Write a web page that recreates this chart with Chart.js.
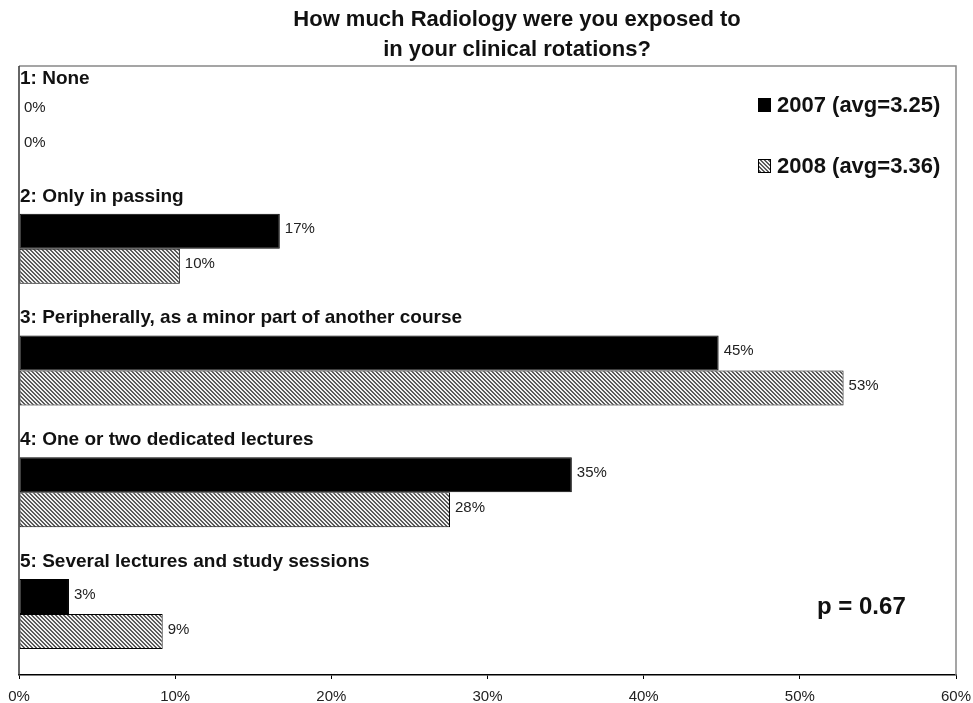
<!DOCTYPE html>
<html>
<head>
<meta charset="utf-8">
<script src="https://cdn.jsdelivr.net/npm/chart.js@4.4.1/dist/chart.umd.min.js"></script>
<style>
  html, body { margin: 0; padding: 0; background: #fff; }
  #wrap { width: 973px; height: 703px; }
</style>
</head>
<body>
<div id="wrap"><canvas id="chart" width="973" height="703"></canvas></div>
<script>
// ---- data ----
const categories = [
  '1: None',
  '2: Only in passing',
  '3: Peripherally, as a minor part of another course',
  '4: One or two dedicated lectures',
  '5: Several lectures and study sessions'
];
const values2007 = [0, 16.7, 44.8, 35.4, 3.2];
const values2008 = [0, 10.3, 52.8, 27.6, 9.2];
const seriesNames = ['2007 (avg=3.25)', '2008 (avg=3.36)'];
const xTicks = [0, 10, 20, 30, 40, 50, 60];
const titleLines = ['How much Radiology were you exposed to', 'in your clinical rotations?'];
const pValueText = 'p = 0.67';

const FONT = 'Arial, "Liberation Sans", sans-serif';

// hatch pattern for 2008
function makeHatch() {
  const c = document.createElement('canvas');
  c.width = 4; c.height = 4;
  const g = c.getContext('2d');
  g.fillStyle = '#f0f0f0';
  g.fillRect(0, 0, 4, 4);
  g.fillStyle = '#5a5a5a';
  for (let y = 0; y < 4; y++) {
    for (let x = 0; x < 4; x++) {
      const d = ((x - y) % 4 + 4) % 4;
      if (d === 0 || d === 1) g.fillRect(x, y, 1, 1);
    }
  }
  return c;
}
const ctx = document.getElementById('chart').getContext('2d');
const hatch = ctx.createPattern(makeHatch(), 'repeat');

// titles, labels, legend, frame
const decorations = {
  id: 'decorations',
  afterDatasetsDraw(chart) {
    const c = chart.ctx;
    const area = chart.chartArea;
    c.save();

    // frame
    c.strokeStyle = '#888';
    c.lineWidth = 1.5;
    c.beginPath();
    c.moveTo(area.left, area.top);
    c.lineTo(area.right, area.top);
    c.lineTo(area.right, area.bottom);
    c.stroke();
    c.strokeStyle = '#333';
    c.beginPath();
    c.moveTo(area.left, area.top);
    c.lineTo(area.left, area.bottom);
    c.stroke();

    // title
    c.fillStyle = '#111';
    c.font = 'bold 22px ' + FONT;
    c.textAlign = 'center';
    c.textBaseline = 'middle';
    c.fillText(titleLines[0], 517, 20);
    c.fillText(titleLines[1], 517, 50);

    // category labels above each group
    const m0 = chart.getDatasetMeta(0);
    c.textAlign = 'left';
    c.textBaseline = 'alphabetic';
    c.font = 'bold 19px ' + FONT;
    m0.data.forEach((bar, i) => {
      const top = bar.y - bar.height / 2;
      const gap = i === 0 ? 8 : 12;
      c.fillText(categories[i], area.left + 1, top - gap);
    });

    // value labels
    c.font = '15px ' + FONT;
    c.fillStyle = '#222';
    c.textBaseline = 'middle';
    chart.data.datasets.forEach((ds, di) => {
      chart.getDatasetMeta(di).data.forEach((bar, i) => {
        c.fillText(Math.round(ds.data[i]) + '%', bar.x + 5, bar.y - 2);
      });
    });

    // legend
    const legY = [105, 166];
    c.font = 'bold 22px ' + FONT;
    seriesNames.forEach((name, i) => {
      const y = legY[i];
      c.fillStyle = i === 0 ? '#000' : hatch;
      c.fillRect(758, y - 7, 13, 14);
      c.strokeStyle = '#000';
      c.lineWidth = 1;
      c.strokeRect(758.5, y - 6.5, 12, 13);
      c.fillStyle = '#111';
      c.fillText(name, 777, y + 1);
    });

    // p-value
    c.font = 'bold 24px ' + FONT;
    c.fillText(pValueText, 817, 607);

    c.restore();
  }
};

new Chart(ctx, {
  type: 'bar',
  data: {
    labels: categories,
    datasets: [
      {
        label: seriesNames[0],
        data: values2007,
        backgroundColor: '#000',
        borderColor: '#000',
        borderWidth: 1,
        borderSkipped: false,
        categoryPercentage: 0.575,
        barPercentage: 1.0
      },
      {
        label: seriesNames[1],
        data: values2008,
        backgroundColor: hatch,
        borderColor: '#000',
        borderWidth: 1,
        borderSkipped: false,
        categoryPercentage: 0.575,
        barPercentage: 1.0
      }
    ]
  },
  options: {
    indexAxis: 'y',
    responsive: false,
    animation: false,
    layout: { padding: { left: 19, right: 17, top: 66, bottom: 0 } },
    plugins: {
      legend: { display: false },
      title: { display: false },
      tooltip: { enabled: false }
    },
    scales: {
      y: { display: false },
      x: {
        min: 0,
        max: 60,
        afterBuildTicks(scale) {
          scale.ticks = xTicks.map(v => ({ value: v }));
        },
        afterFit(scale) {
          scale.height = 28;
          scale.paddingLeft = 0;
          scale.paddingRight = 0;
        },
        border: { display: true, color: '#000', width: 1.5 },
        grid: { drawOnChartArea: false, drawTicks: true, tickLength: 4, color: '#000' },
        ticks: {
          padding: 9,
          color: '#222',
          font: { family: FONT, size: 15 },
          callback: v => v + '%'
        }
      }
    }
  },
  plugins: [decorations]
});
</script>
</body>
</html>
